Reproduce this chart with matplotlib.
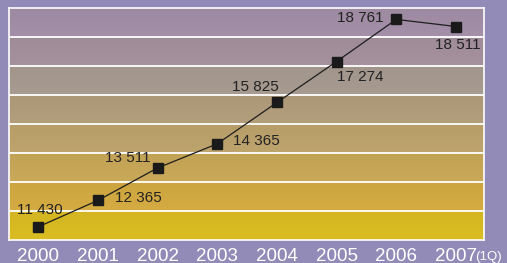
import numpy as np
import matplotlib
matplotlib.use("Agg")
import matplotlib.pyplot as plt
from matplotlib.colors import to_rgb

plt.rcParams['font.family'] = ['Liberation Sans', 'DejaVu Sans']

years = ["2000", "2001", "2002", "2003", "2004", "2005", "2006", "2007"]
values = [11430, 12365, 13511, 14365, 15825, 17274, 18761, 18511]
value_labels = ["11 430", "12 365", "13 511", "14 365", "15 825", "17 274", "18 761", "18 511"]
label_offsets = [(2, 17), (40, 2), (-30, 10), (39, 3), (-22, 15), (24, -15), (-36, 1), (2, -18)]
band_colors = ["#a28ea6", "#a3909c", "#a69a90", "#b19c7b", "#bca26c", "#c8a758", "#d3aa42", "#d9bb22"]

W, H = 507, 263
fig = plt.figure(figsize=(W / 100, H / 100), dpi=100)
fig.patch.set_facecolor("#928bb8")

ax = fig.add_axes([9 / W, (H - 240) / H, 475 / W, 232 / H])
x = np.arange(len(years))
ax.set_xlim(-0.49, 7.47)
ax.set_ylim(10965, 19165)

# background bands (top to bottom)
nb = len(band_colors)
rows = []
per = 40
for i, c in enumerate(band_colors):
    base = np.array(to_rgb(c))
    for k in range(per):
        f = k / (per - 1)
        shade = base * (0.97 + 0.04 * f)
        rows.append(np.clip(shade, 0, 1))
img = np.array(rows)[:, None, :]
ax.imshow(img, extent=[0, 1, 0, 1], transform=ax.transAxes, aspect="auto",
          interpolation="nearest", zorder=0)

# white band separators
for k in range(1, nb):
    ax.plot([0, 1], [k / nb, k / nb], transform=ax.transAxes, color="white", lw=1.3, zorder=1)
for s in ax.spines.values():
    s.set_color("white")
    s.set_linewidth(1.2)

ax.plot(x, values, color="#1e1e1e", lw=0.9, marker="s", markersize=6.5,
        markerfacecolor="#1a1a1a", markeredgecolor="#1a1a1a", zorder=3)

for xi, v, lab, off in zip(x, values, value_labels, label_offsets):
    ax.annotate(lab, (xi, v), xytext=off, textcoords="offset pixels",
                ha="center", va="center", fontsize=11, color="#222222", zorder=4)

ax.set_xticks(x)
ax.set_xticklabels(years, color="white", fontsize=13.5)
ax.set_yticks([])
ax.tick_params(axis="x", length=0, pad=5.5)

ax.annotate("(1Q)", xy=(7, 0), xycoords=("data", "axes fraction"),
            xytext=(19, -20), textcoords="offset pixels",
            ha="left", va="baseline", fontsize=9.5, color="white", annotation_clip=False)

fig.savefig("out.png", dpi=100, facecolor=fig.get_facecolor())
